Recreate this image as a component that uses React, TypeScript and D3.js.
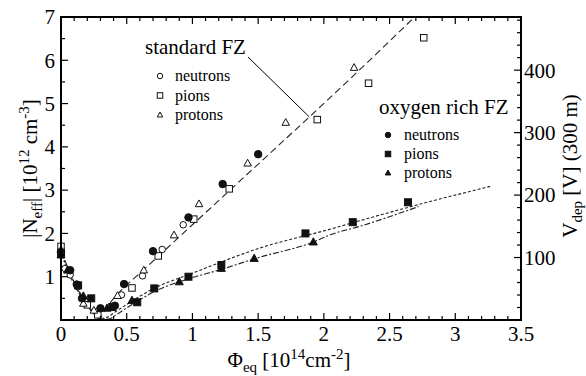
import * as d3 from 'd3';

// Φ_eq [1e14 cm^-2], |N_eff| [1e12 cm^-3]
const stdNeutrons: [number, number][] = [[0, 1.6], [0.03, 1.19], [0.07, 1.04], [0.13, 0.77], [0.2, 0.46], [0.27, 0.19], [0.46, 0.58], [0.62, 1.02], [0.77, 1.63], [0.93, 2.2]];
const stdPions: [number, number][] = [[0, 1.7], [0.2, 0.35], [0.28, 0.12], [0.54, 0.74], [0.74, 1.48], [1.01, 2.33], [1.28, 3.03], [1.95, 4.63], [2.34, 5.47], [2.76, 6.52]];
const stdProtons: [number, number][] = [[0, 1.62], [0.17, 0.38], [0.25, 0.22], [0.43, 0.56], [0.63, 1.15], [0.86, 1.96], [1.05, 2.68], [1.42, 3.62], [1.71, 4.56], [2.23, 5.83]];
const oxNeutrons: [number, number][] = [[0, 1.57], [0.07, 1.15], [0.12, 0.82], [0.16, 0.5], [0.3, 0.27], [0.41, 0.33], [0.48, 0.83], [0.7, 1.59], [0.97, 2.37], [1.23, 3.14], [1.5, 3.83]];
const oxPions: [number, number][] = [[0, 1.55], [0.13, 0.8], [0.23, 0.5], [0.39, 0.3], [0.58, 0.41], [0.71, 0.73], [0.97, 1.0], [1.22, 1.27], [1.86, 2.0], [2.22, 2.26], [2.64, 2.72]];
const oxProtons: [number, number][] = [[0, 1.5], [0.05, 1.15], [0.17, 0.55], [0.35, 0.27], [0.54, 0.45], [0.9, 0.88], [1.22, 1.19], [1.47, 1.42], [1.92, 1.8]];

// fit curves
const stdFit: [number, number][] = [[0, 1.62], [0.05, 1.22], [0.1, 0.88], [0.15, 0.58], [0.2, 0.34], [0.25, 0.14], [0.29, 0.03], [0.33, 0.2], [0.38, 0.42], [0.45, 0.66], [0.6, 1.08], [0.8, 1.64], [1.0, 2.2], [1.3, 3.04], [1.6, 3.88], [1.9, 4.72], [2.3, 5.86], [2.69, 7.0]];
const oxFitA: [number, number][] = [[0, 1.6], [0.05, 1.2], [0.1, 0.88], [0.15, 0.6], [0.2, 0.36], [0.25, 0.17], [0.3, 0.04], [0.35, 0.06], [0.4, 0.16], [0.5, 0.36], [0.7, 0.72], [1.0, 1.08], [1.21, 1.33], [1.5, 1.65], [2.05, 2.1], [2.28, 2.3], [2.7, 2.65], [3.27, 3.09]];
const oxFitB: [number, number][] = [[0, 1.55], [0.05, 1.15], [0.1, 0.82], [0.15, 0.55], [0.2, 0.33], [0.25, 0.15], [0.3, 0.04], [0.36, 0.02], [0.42, 0.12], [0.5, 0.28], [0.7, 0.64], [1.0, 0.98], [1.21, 1.16], [1.5, 1.44], [1.92, 1.8], [2.05, 1.97], [2.28, 2.17], [2.72, 2.62]];

const xMajor = [0, 0.5, 1, 1.5, 2, 2.5, 3, 3.5];
const xMajorLabels = ['0', '0.5', '1', '1.5', '2', '2.5', '3', '3.5'];
const yMajor = [1, 2, 3, 4, 5, 6, 7];
const vMajor = [100, 200, 300, 400];
const legendItems = ['neutrons', 'pions', 'protons'];

const FONT = "'Liberation Serif', serif";

function Marker({ kind, filled, x, y, s }: { kind: string; filled: boolean; x: number; y: number; s: number }) {
  const fill = filled ? '#111' : '#fff';
  if (kind === 'circle') return <circle cx={x} cy={y} r={s / 2} fill={fill} stroke="#111" strokeWidth={1} />;
  if (kind === 'square') return <rect x={x - s / 2} y={y - s / 2} width={s} height={s} fill={fill} stroke="#111" strokeWidth={1} />;
  const h = s * 0.9;
  return <path d={`M${x},${y - h * 0.6}L${x + s / 2},${y + h * 0.4}L${x - s / 2},${y + h * 0.4}Z`} fill={fill} stroke="#111" strokeWidth={1} />;
}

export default function App() {
  const width = 586;
  const height = 376;
  const left = 61, right = 521, top = 17, bottom = 320;

  const x = d3.scaleLinear().domain([0, 3.5]).range([left, right]);
  const y = d3.scaleLinear().domain([0, 7]).range([bottom, top]);
  const yV = d3.scaleLinear().domain([0, 7 * 69.3]).range([bottom, top]);

  const line = d3.line<[number, number]>().x((d) => x(d[0])).y((d) => y(d[1])).curve(d3.curveMonotoneX);

  const xMinor = d3.range(0, 36).map((i) => i / 10);
  const yMinor = d3.range(0, 15).map((i) => i / 2);
  const vMinor = d3.range(0, 25).map((i) => i * 20);

  const series = [
    { data: stdNeutrons, kind: 'circle', filled: false, s: 6.5 },
    { data: stdPions, kind: 'square', filled: false, s: 6.5 },
    { data: stdProtons, kind: 'triangle', filled: false, s: 7.5 },
    { data: oxPions, kind: 'square', filled: true, s: 7 },
    { data: oxProtons, kind: 'triangle', filled: true, s: 8 },
    { data: oxNeutrons, kind: 'circle', filled: true, s: 7.5 },
  ];

  const kinds = ['circle', 'square', 'triangle'];

  return (
    <svg width={width} height={height} style={{ position: 'absolute', left: 0, top: 0, background: '#fff' }}>
      <style>{`text { font-family: 'Liberation Serif', serif; fill: #000; }`}</style>
      <defs>
        <clipPath id="plot">
          <rect x={left} y={top} width={right - left} height={bottom - top} />
        </clipPath>
      </defs>

      {/* fit curves */}
      <g clipPath="url(#plot)" fill="none" stroke="#222" strokeWidth={1.1}>
        <path d={line(stdFit) || ''} strokeDasharray="7,4" />
        <path d={line(oxFitA) || ''} strokeDasharray="3,2" />
        <path d={line(oxFitB) || ''} strokeDasharray="6,2,2,2" />
      </g>

      {/* data points */}
      {series.map((sr, i) => (
        <g key={i}>
          {sr.data.map((d, j) => (
            <Marker key={j} kind={sr.kind} filled={sr.filled} x={x(d[0])} y={y(d[1])} s={sr.s} />
          ))}
        </g>
      ))}

      {/* frame */}
      <rect x={left} y={top} width={right - left} height={bottom - top} fill="none" stroke="#000" strokeWidth={2} />

      {/* x ticks bottom & top */}
      {xMinor.map((v, i) => {
        const major = Math.abs(v * 2 - Math.round(v * 2)) < 1e-6;
        const len = major ? 7 : 4;
        return (
          <g key={i} stroke="#000" strokeWidth={1.2}>
            <line x1={x(v)} x2={x(v)} y1={bottom} y2={bottom - len} />
            <line x1={x(v)} x2={x(v)} y1={top} y2={top + len} />
          </g>
        );
      })}

      <g fontFamily={FONT}>
        {xMajor.map((v, i) => (
          <text key={i} x={x(v)} y={341} textAnchor="middle" fontSize={21}>{xMajorLabels[i]}</text>
        ))}

        {/* left y ticks */}
        {yMinor.map((v, i) => {
          const len = Number.isInteger(v) ? 7 : 4;
          return <line key={i} x1={left} x2={left + len} y1={y(v)} y2={y(v)} stroke="#000" strokeWidth={1.2} />;
        })}
        {yMajor.map((v) => (
          <text key={v} x={55} y={y(v)} dy="0.35em" textAnchor="end" fontSize={21}>{v}</text>
        ))}

        {/* right V ticks */}
        {vMinor.map((v, i) => {
          const len = v % 100 === 0 ? 7 : 4;
          return <line key={i} x1={right} x2={right - len} y1={yV(v)} y2={yV(v)} stroke="#000" strokeWidth={1.2} />;
        })}
        {vMajor.map((v) => (
          <text key={v} x={524} y={yV(v)} dy="0.35em" textAnchor="start" fontSize={21}>{v}</text>
        ))}

        {/* axis titles */}
        <text transform={`translate(37,${(top + bottom) / 2}) rotate(-90)`} textAnchor="middle" fontSize={21}>
          |N<tspan fontSize={15} dy={5}>eff</tspan>
          <tspan dy={-5}>| [10</tspan>
          <tspan fontSize={15} dy={-8}>12</tspan>
          <tspan dy={8}> cm</tspan>
          <tspan fontSize={15} dy={-8}>-3</tspan>
          <tspan dy={8}>]</tspan>
        </text>
        <text transform={`translate(577,166) rotate(-90)`} textAnchor="middle" fontSize={21}>
          V<tspan fontSize={15} dy={5}>dep</tspan>
          <tspan dy={-5}> [V]   (300  m)</tspan>
        </text>
        <text x={289} y={367} textAnchor="middle" fontSize={21}>
          Φ<tspan fontSize={15} dy={5}>eq</tspan>
          <tspan dy={-5}> [10</tspan>
          <tspan fontSize={15} dy={-8}>14</tspan>
          <tspan dy={8}>cm</tspan>
          <tspan fontSize={15} dy={-8}>-2</tspan>
          <tspan dy={8}>]</tspan>
        </text>

        {/* standard FZ legend */}
        <text x={145} y={54} fontSize={21}>standard FZ</text>
        <line x1={248} y1={57} x2={x(1.89)} y2={y(4.69)} stroke="#000" strokeWidth={1} />
        {legendItems.map((name, i) => (
          <g key={name}>
            <Marker kind={kinds[i]} filled={false} x={160} y={76 + i * 19.5} s={5.5} />
            <text x={175} y={81 + i * 19.5} fontSize={16}>{name}</text>
          </g>
        ))}

        {/* oxygen rich legend */}
        <text x={379} y={114} fontSize={21}>oxygen rich FZ</text>
        {legendItems.map((name, i) => (
          <g key={name}>
            <Marker kind={kinds[i]} filled={true} x={388} y={135 + i * 19} s={5.5} />
            <text x={404} y={140 + i * 19} fontSize={16}>{name}</text>
          </g>
        ))}
      </g>
    </svg>
  );
}
